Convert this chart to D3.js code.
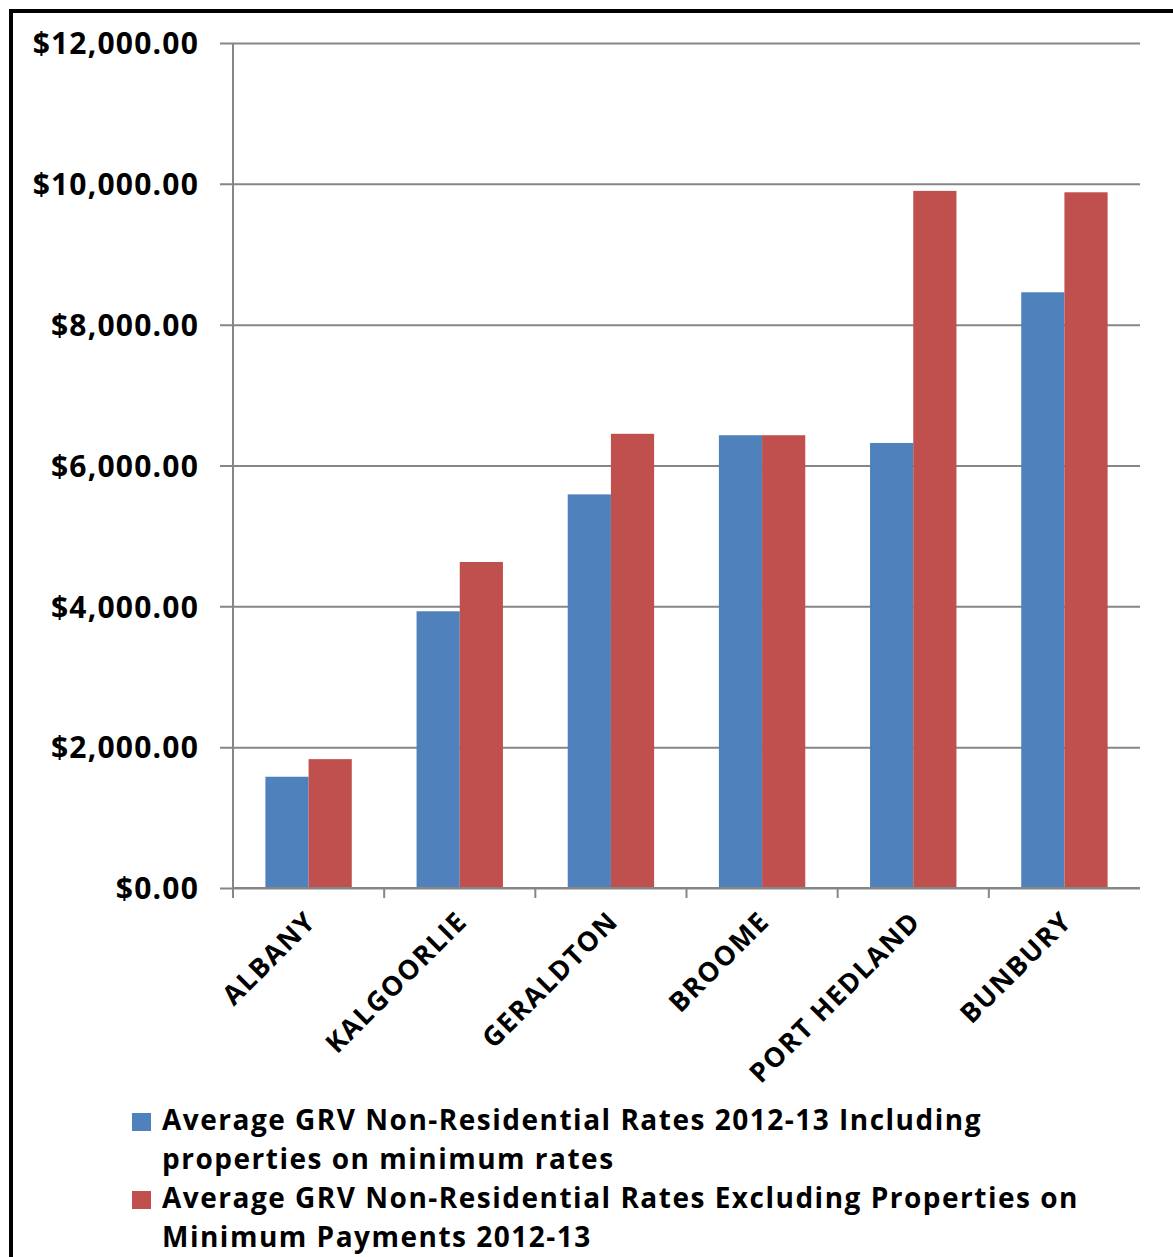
<!DOCTYPE html>
<html><head><meta charset="utf-8">
<script src="https://cdn.jsdelivr.net/npm/d3@7"></script>
<style>body{margin:0;background:#fff}svg{display:block}</style>
</head><body>
<svg id="c" width="1173" height="1257"></svg>
<script>
const categories = ["ALBANY","KALGOORLIE","GERALDTON","BROOME","PORT HEDLAND","BUNBURY"];
const includingMin = [1580, 3930, 5590, 6430, 6320, 8460];
const excludingMin = [1830, 4630, 6450, 6430, 9900, 9880];
const seriesNames = [
  ["Average GRV Non-Residential Rates 2012-13 Including", "properties on minimum rates"],
  ["Average GRV Non-Residential Rates Excluding Properties on", "Minimum Payments 2012-13"]
];
const yTicks = [0, 2000, 4000, 6000, 8000, 10000, 12000];
const colors = ["#4F81BD", "#C0504D"];

(function () {
const svg = d3.select("#c");
const font = "'Open Sans', Lato, sans-serif";
const pL = 233, pR = 1140, pT = 43, pB = 888;
const xc = d3.scaleBand().domain(categories).range([pL, pR]).padding(0);
const barW = xc.bandwidth() / 3.5; // gap width 150%
const y = d3.scaleLinear().domain([0, 12000]).range([pB, pT]);

// border
svg.append("line").attr("x1", 11).attr("x2", 11).attr("y1", 9).attr("y2", 1257).attr("stroke", "#000").attr("stroke-width", 4);
svg.append("line").attr("x1", 9).attr("x2", 1173).attr("y1", 11).attr("y2", 11).attr("stroke", "#000").attr("stroke-width", 4);

// gridlines + y labels
const yAxis = d3.axisLeft(y).tickValues(yTicks).tickSize(-(pR - pL)).tickFormat(d => "$" + d3.format(",.2f")(d));
const gy = svg.append("g").attr("transform", `translate(${pL},0)`).call(yAxis);
gy.select(".domain").remove();
gy.selectAll(".tick line").attr("x1", -13).attr("stroke", "#868686").attr("stroke-width", 2);
gy.selectAll(".tick text").attr("x", -34).attr("dy", "0.36em")
  .attr("font-family", font).attr("font-weight", "bold").attr("font-size", 30)
  .attr("letter-spacing", 1.2).attr("fill", "#000");

// y axis line
svg.append("line").attr("x1", pL).attr("x2", pL).attr("y1", pT).attr("y2", pB).attr("stroke", "#868686").attr("stroke-width", 2);

// bars
[includingMin, excludingMin].forEach((vals, si) => {
  svg.append("g").selectAll("rect").data(categories).join("rect")
    .attr("x", d => xc(d) + barW * 0.75 + si * barW)
    .attr("width", barW)
    .attr("y", (d, i) => y(vals[i]))
    .attr("height", (d, i) => y(0) - y(vals[i]))
    .attr("fill", colors[si]);
});

// x axis
const gx = svg.append("g").attr("transform", `translate(0,${pB})`).call(d3.axisBottom(xc).tickSize(0).tickFormat(""));
gx.select(".domain").attr("stroke", "#868686").attr("stroke-width", 2).attr("d", `M${pL},0H${pR}`);
gx.selectAll(".tick").remove();
svg.append("g").selectAll("line").data(categories).join("line")
  .attr("x1", d => xc(d)).attr("x2", d => xc(d)).attr("y1", pB).attr("y2", pB + 10)
  .attr("stroke", "#868686").attr("stroke-width", 2);

// category labels
svg.append("g").selectAll("text").data(categories).join("text")
  .attr("transform", d => `translate(${xc(d) + xc.bandwidth() / 2 + 9},923) rotate(-45)`)
  .attr("text-anchor", "end")
  .attr("font-family", font).attr("font-weight", "bold").attr("font-size", 27)
  .attr("letter-spacing", 1.5).attr("fill", "#000")
  .text(d => d);

// legend
const lg = svg.append("g");
seriesNames.forEach((lines, i) => {
  const by = 1130 + i * 78;
  lg.append("rect").attr("x", 132).attr("y", by - 17).attr("width", 19).attr("height", 18).attr("fill", colors[i]);
  lines.forEach((t, j) => {
    lg.append("text").attr("x", 162).attr("y", by + j * 39)
      .attr("font-family", font).attr("font-weight", "bold").attr("font-size", 28)
      .attr("letter-spacing", 1.5).attr("fill", "#000")
      .text(t);
  });
});
})();
</script>
</body></html>
